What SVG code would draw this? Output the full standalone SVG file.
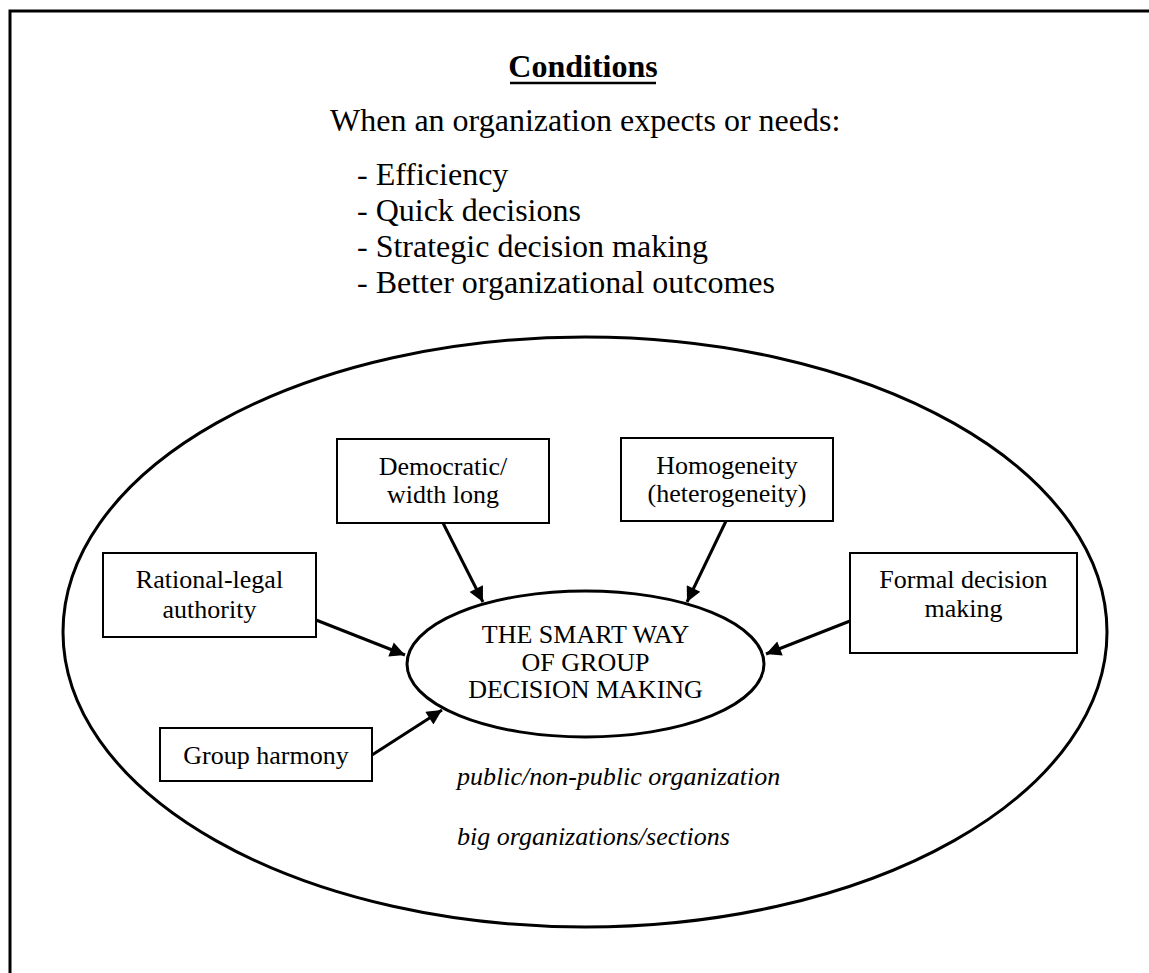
<svg xmlns="http://www.w3.org/2000/svg" width="1149" height="973" viewBox="0 0 1149 973">
  <style>
    text { font-family: "Liberation Serif", "Times New Roman", serif; fill: #000; }
    .head { font-size: 32px; }
    .title { font-size: 32px; font-weight: bold; }
    .lbl { font-size: 26px; text-anchor: middle; }
    .note { font-size: 26px; font-style: italic; }
    .box { fill: #fff; stroke: #000; stroke-width: 2; }
    .oval { fill: none; stroke: #000; stroke-width: 3; }
    .edge { stroke: #000; stroke-width: 3; fill: none; marker-end: url(#arrow); }
  </style>
  <defs>
    <marker id="arrow" viewBox="0 0 10 10" refX="10" refY="5" markerWidth="6" markerHeight="5" orient="auto" markerUnits="strokeWidth">
      <path d="M0,0 L10,5 L0,10 z" fill="#000"/>
    </marker>
  </defs>

  <rect width="1149" height="973" fill="#fff"/>

  <!-- page frame (runs off the right and bottom edges) -->
  <path d="M10,1000 L10,11 L1200,11" fill="none" stroke="#000" stroke-width="3"/>

  <!-- conditions header -->
  <g id="conditions">
    <text class="title" x="583" y="77" text-anchor="middle">Conditions</text>
    <line x1="510" y1="83" x2="656" y2="83" stroke="#000" stroke-width="2.5"/>
    <text class="head" x="330" y="131">When an organization expects or needs:</text>
    <text class="head" x="357" y="185">- Efficiency</text>
    <text class="head" x="357" y="221">- Quick decisions</text>
    <text class="head" x="357" y="257">- Strategic decision making</text>
    <text class="head" x="357" y="293">- Better organizational outcomes</text>
  </g>

  <!-- organizational context -->
  <g id="context">
    <ellipse class="oval" cx="585" cy="632" rx="522" ry="295"/>
    <text class="note" x="457" y="785">public/non-public organization</text>
    <text class="note" x="457" y="845">big organizations/sections</text>
  </g>

  <g id="connectors">
    <line class="edge" x1="443" y1="523" x2="483" y2="602"/>
    <line class="edge" x1="726" y1="521" x2="687" y2="602"/>
    <line class="edge" x1="316" y1="620" x2="405" y2="655"/>
    <line class="edge" x1="850" y1="621" x2="766" y2="654"/>
    <line class="edge" x1="372" y1="755" x2="442" y2="710"/>
  </g>

  <g id="smart-way">
    <ellipse class="oval" cx="585.5" cy="664" rx="178.5" ry="73"/>
    <text class="lbl" x="585.5" y="643">THE SMART WAY</text>
    <text class="lbl" x="585.5" y="671">OF GROUP</text>
    <text class="lbl" x="585.5" y="698">DECISION MAKING</text>
  </g>

  <g id="democratic">
    <rect class="box" x="337" y="439" width="212" height="84"/>
    <text class="lbl" x="443" y="475">Democratic/</text>
    <text class="lbl" x="443" y="503">width long</text>
  </g>

  <g id="homogeneity">
    <rect class="box" x="621" y="438" width="212" height="83"/>
    <text class="lbl" x="727" y="474">Homogeneity</text>
    <text class="lbl" x="727" y="502">(heterogeneity)</text>
  </g>

  <g id="rational-legal">
    <rect class="box" x="103" y="553" width="213" height="84"/>
    <text class="lbl" x="209.5" y="588">Rational-legal</text>
    <text class="lbl" x="209.5" y="618">authority</text>
  </g>

  <g id="formal">
    <rect class="box" x="850" y="553" width="227" height="100"/>
    <text class="lbl" x="963.5" y="588">Formal decision</text>
    <text class="lbl" x="963.5" y="617">making</text>
  </g>

  <g id="group-harmony">
    <rect class="box" x="160" y="728" width="212" height="53"/>
    <text class="lbl" x="266" y="764">Group harmony</text>
  </g>
</svg>
